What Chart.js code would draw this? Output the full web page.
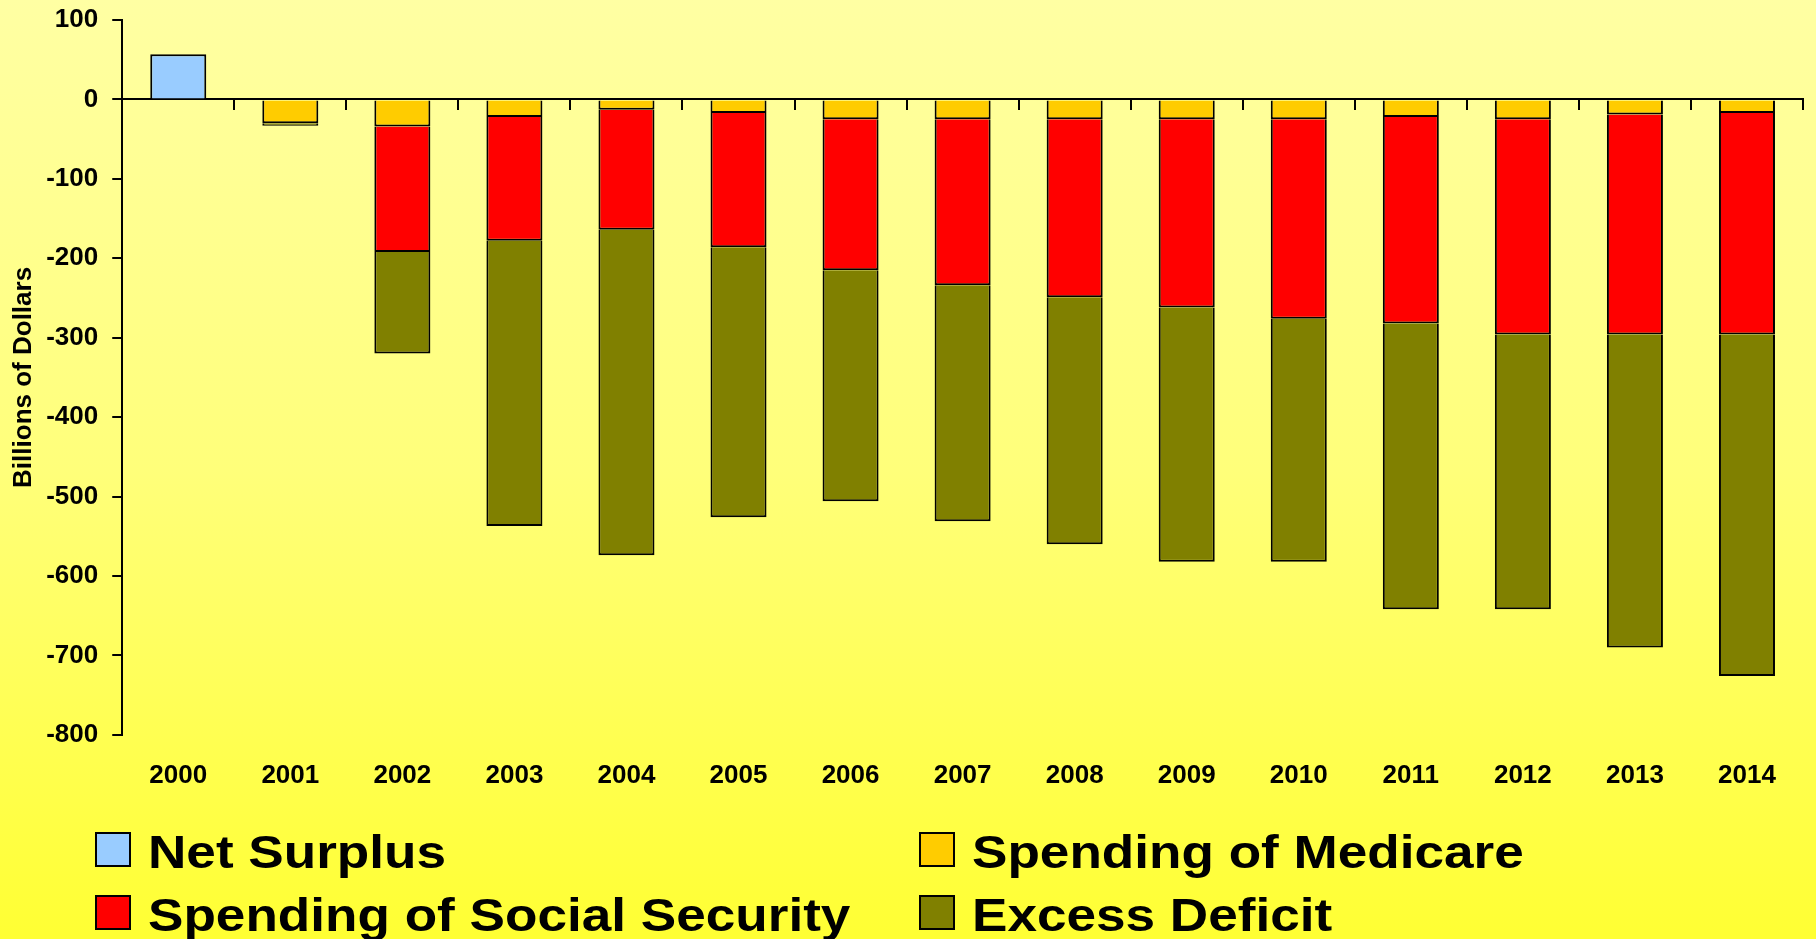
<!DOCTYPE html>
<html>
<head>
<meta charset="utf-8">
<script src="https://cdn.jsdelivr.net/npm/chart.js@4.4.1/dist/chart.umd.min.js"></script>
<style>
html,body{margin:0;padding:0;}
body{width:1816px;height:939px;overflow:hidden;position:relative;
  background:linear-gradient(to bottom,#ffffa3 0%,#ffff7a 50%,#ffff33 100%);
  font-family:"Liberation Sans",Arial,sans-serif;}
#contenedor{position:absolute;left:0;top:0;width:1816px;height:939px;}
.item{position:absolute;height:35px;}
.caja{position:absolute;left:0;top:0;width:32px;height:31px;border:2px solid #000;}
.texto{position:absolute;left:53px;top:-4px;white-space:nowrap;font-weight:bold;
  font-size:47px;line-height:47px;color:#000;transform:scaleX(1.13);transform-origin:left top;}
</style>
</head>
<body>
<div id="contenedor"><canvas id="grafico"></canvas></div>
<div id="leyenda"></div>
<script>
// datos (miles de millones de dolares)
var anios = ['2000','2001','2002','2003','2004','2005','2006','2007','2008','2009','2010','2011','2012','2013','2014'];
var superavitNeto = [57, null, null, null, null, null, null, null, null, null, null, null, null, null, null];
var gastoMedicare = [null, -30, -34, -22, -13, -17, -25, -25, -25, -25, -25, -22, -25, -19, -17];
var gastoSeguridadSocial = [null, null, -158, -156, -151, -169, -190, -209, -224, -237, -251, -260, -271, -277, -279];
var deficitExceso = [null, -3, -128, -359, -410, -340, -291, -297, -311, -320, -306, -360, -346, -394, -430];
var ejeYMin = -800, ejeYMax = 100, ejeYPaso = 100;

var fuente = '"Liberation Sans", Arial, sans-serif';

var ctx = document.getElementById('grafico');

var grafico = new Chart(ctx, {
    type: 'bar',
    data: {
        labels: anios,
        datasets: [
            { label: 'Net Surplus', data: superavitNeto, backgroundColor: '#99ccff' },
            { label: 'Spending of Medicare', data: gastoMedicare, backgroundColor: '#ffcc00' },
            { label: 'Spending of Social Security', data: gastoSeguridadSocial, backgroundColor: '#ff0000' },
            { label: 'Excess Deficit', data: deficitExceso, backgroundColor: '#808000' }
        ]
    },
    options: {
        responsive: true,
        maintainAspectRatio: false,
        animation: false,
        devicePixelRatio: 1,
        datasets: {
            bar: {
                borderColor: '#000000',
                borderWidth: 2,
                borderSkipped: 'start',
                barPercentage: 0.5,
                categoryPercentage: 1.0
            }
        },
        layout: {
            padding: { left: 0, right: 13, top: 20, bottom: 123 }
        },
        plugins: {
            legend: { display: false },
            tooltip: { enabled: false }
        },
        scales: {
            x: {
                type: 'category',
                stacked: true,
                offset: true,
                position: 'bottom',
                grid: { display: false, drawTicks: false, offset: true },
                border: { display: false },
                ticks: {
                    color: '#000',
                    padding: 25,
                    maxRotation: 0,
                    font: { family: fuente, size: 26, weight: 'bold' }
                }
            },
            // linea del cero con sus marcas
            xCero: {
                type: 'category',
                axis: 'x',
                offset: true,
                position: { y: 0 },
                grid: {
                    display: true,
                    offset: true,
                    drawOnChartArea: false,
                    drawTicks: true,
                    tickLength: 10,
                    color: '#000',
                    lineWidth: 2
                },
                border: { display: true, color: '#000', width: 2 },
                ticks: { display: false }
            },
            y: {
                stacked: true,
                min: ejeYMin,
                max: ejeYMax,
                afterFit: function(escala){
                    // que el padding de las etiquetas no empuje el area
                    escala.paddingTop = 0;
                    escala.paddingBottom = 0;
                },
                grid: {
                    drawOnChartArea: false,
                    drawTicks: true,
                    tickLength: 10,
                    color: '#000',
                    lineWidth: 2
                },
                border: { display: true, color: '#000', width: 2 },
                ticks: {
                    stepSize: ejeYPaso,
                    color: '#000',
                    padding: 14,
                    font: { family: fuente, size: 26, weight: 'bold' }
                },
                title: {
                    display: true,
                    text: 'Billions of Dollars',
                    color: '#000',
                    padding: { top: 8, bottom: -7 },
                    font: { family: fuente, size: 26, weight: 'bold' }
                }
            }
        }
    }
});

// LEYENDA EN HTML (dos columnas)
var posiciones = [[95, 832], [919, 832], [95, 895], [919, 895]];
var leyenda = document.getElementById('leyenda');
grafico.data.datasets.forEach(function(ds, i){
    var item = document.createElement('div');
    item.className = 'item';
    item.style.left = posiciones[i][0] + 'px';
    item.style.top = posiciones[i][1] + 'px';
    var caja = document.createElement('div');
    caja.className = 'caja';
    caja.style.background = ds.backgroundColor;
    var texto = document.createElement('div');
    texto.className = 'texto';
    texto.textContent = ds.label;
    item.appendChild(caja);
    item.appendChild(texto);
    leyenda.appendChild(item);
});
</script>
</body>
</html>
